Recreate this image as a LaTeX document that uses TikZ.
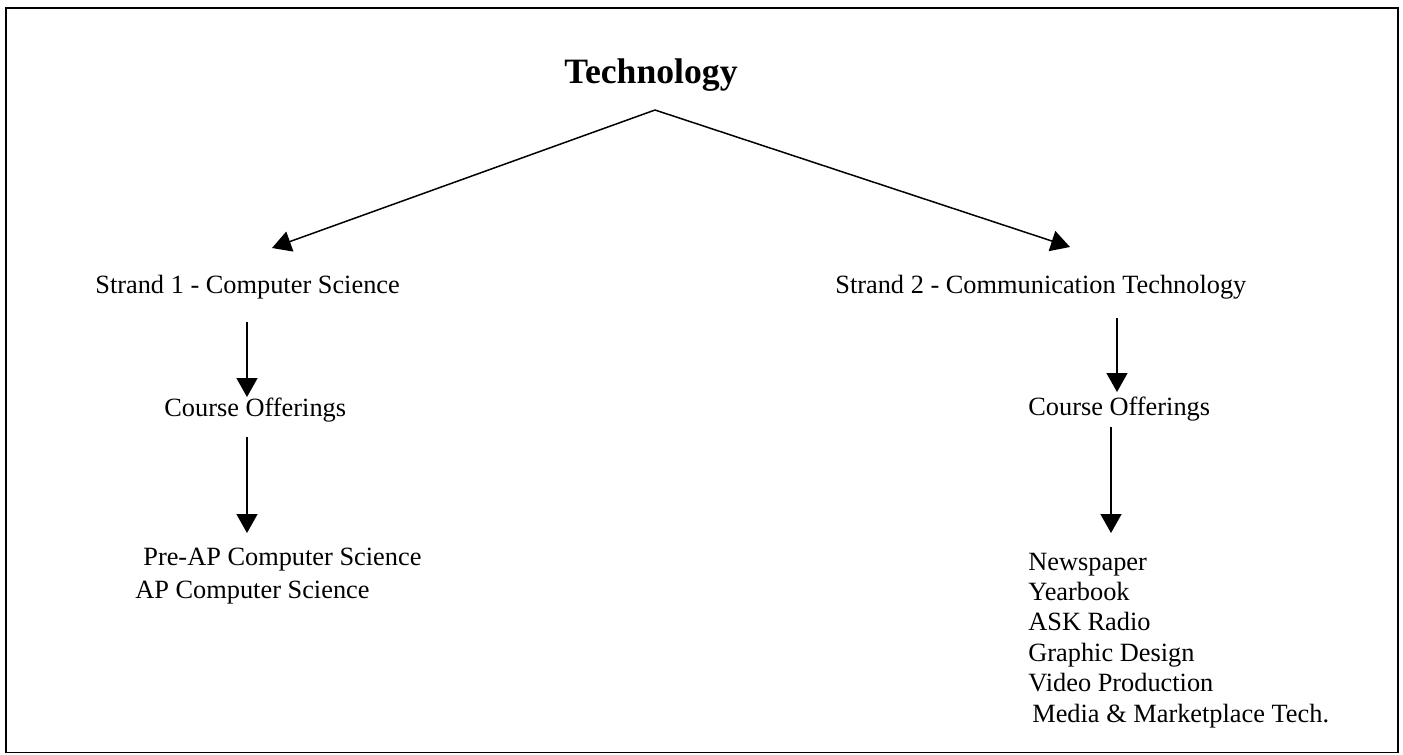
\documentclass[tikz,border=0pt]{standalone}
\usepackage{fontspec}
\setmainfont{Liberation Serif}
\usetikzlibrary{arrows.meta}

\begin{document}
\begin{tikzpicture}[x=0.02cm,y=-0.02cm,
    lbl/.style={inner sep=0pt,anchor=base west,font=\fontsize{15}{18}\selectfont},
    ttl/.style={inner sep=0pt,anchor=base,font=\fontsize{20.3}{24}\selectfont\bfseries},
    arr/.style={-{Triangle[length=0.38cm,width=0.42cm]},line width=0.85pt}]
    \useasboundingbox (0,0) rectangle (1403,754);
    \draw[line width=1.1pt] (6,8) rectangle (1398,752.5);
    % title and the two strands
    \node[ttl] (tech) at (651,83) {Technology};
    \coordinate (apex) at (655,110);
    \coordinate (tipa) at (272,248);
    \coordinate (tipb) at (1070,247);
    \draw[arr] (apex) -- (tipa);
    \draw[arr] (apex) -- (tipb);
    \node[lbl] (strand1) at (95,293) {Strand 1 - Computer Science};
    \node[lbl] (strand2) at (835,293) {Strand 2 - Communication Technology};
    % left column
    \coordinate (la1) at (247,322);
    \coordinate (lb1) at (247,397);
    \coordinate (la2) at (247,437);
    \coordinate (lb2) at (247,533);
    \draw[arr] (la1) -- (lb1);
    \node[lbl] (offer1) at (164,416) {Course Offerings};
    \draw[arr] (la2) -- (lb2);
    \node[lbl] (preap) at (143,565) {Pre-AP Computer Science};
    \node[lbl] (apcs) at (135,598) {AP Computer Science};
    % right column
    \coordinate (ra1) at (1117,318);
    \coordinate (rb1) at (1117,392);
    \coordinate (ra2) at (1111,427);
    \coordinate (rb2) at (1111,533);
    \draw[arr] (ra1) -- (rb1);
    \node[lbl] (offer2) at (1028,415) {Course Offerings};
    \draw[arr] (ra2) -- (rb2);
    \foreach \crs [count=\i from 0] in {Newspaper,Yearbook,ASK Radio,Graphic Design,Video Production}
        \node[lbl] (crs\i) at (1028,570+30.4*\i) {\crs};
    \node[lbl] (crs5) at (1032,722) {Media \& Marketplace Tech.};
\end{tikzpicture}
\end{document}
